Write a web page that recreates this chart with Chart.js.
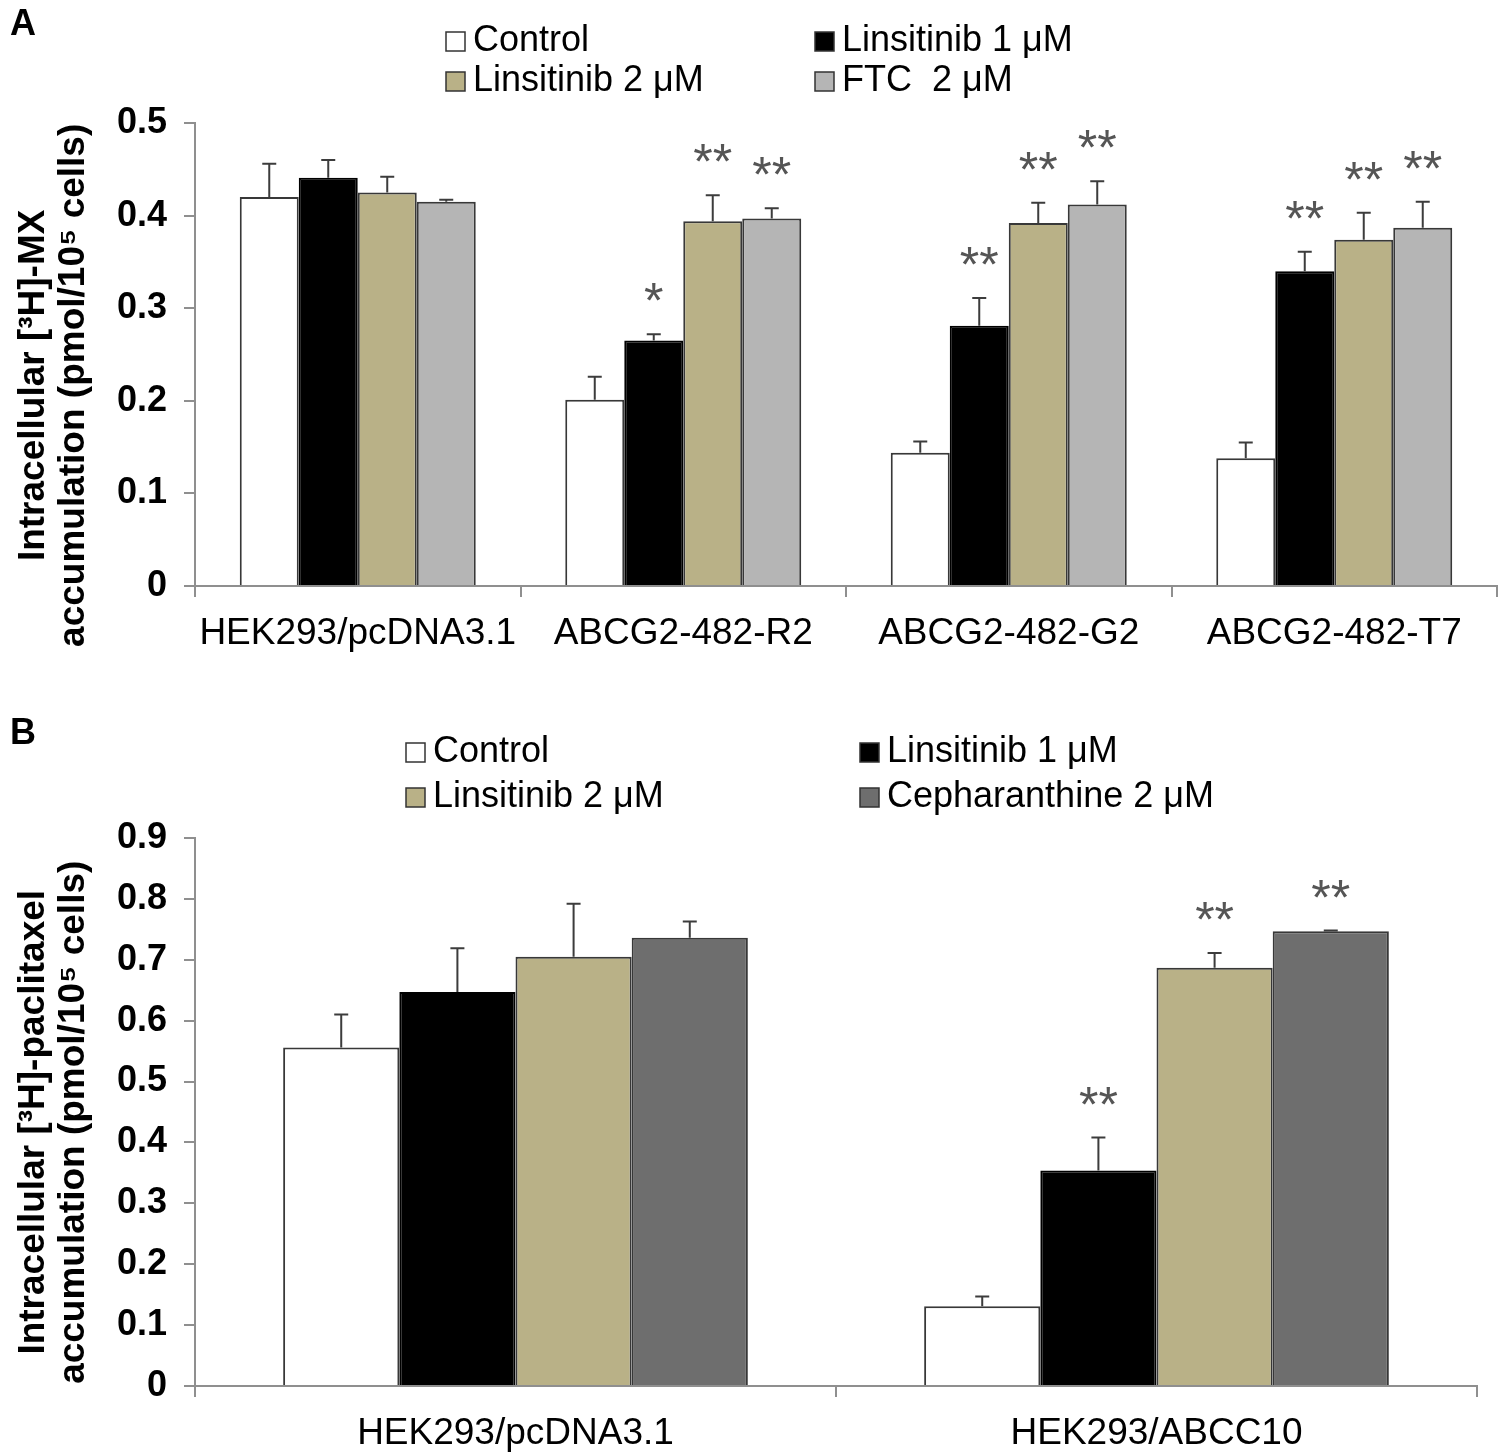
<!DOCTYPE html>
<html><head><meta charset="utf-8">
<script src="https://cdn.jsdelivr.net/npm/chart.js@4/dist/chart.umd.min.js"></script>
<style>
html,body{margin:0;padding:0;background:#fff;}
#wrapA{position:absolute;left:0;top:0;width:1500px;height:700px;}
#wrapB{position:absolute;left:0;top:700px;width:1500px;height:754px;}
</style></head><body>
<div id="wrapA"><canvas id="chartA"></canvas></div>
<div id="wrapB"><canvas id="chartB"></canvas></div>
<script>
// ---------- Panel A data ----------
const categoriesA = ['HEK293/pcDNA3.1', 'ABCG2-482-R2', 'ABCG2-482-G2', 'ABCG2-482-T7'];
const seriesNamesA = ['Control', 'Linsitinib 1 \u03bcM', 'Linsitinib 2 \u03bcM', 'FTC  2 \u03bcM'];
const controlA = [0.420, 0.201, 0.144, 0.138];
const lins1A   = [0.441, 0.265, 0.281, 0.340];
const lins2A   = [0.425, 0.394, 0.392, 0.374];
const ftcA     = [0.415, 0.397, 0.412, 0.387];
const controlErrA = [0.036, 0.025, 0.012, 0.017];
const lins1ErrA   = [0.019, 0.007, 0.030, 0.021];
const lins2ErrA   = [0.017, 0.028, 0.022, 0.029];
const ftcErrA     = [0.002, 0.011, 0.025, 0.028];
const controlSigA = ['', '', '', ''];
const lins1SigA   = ['', '*', '**', '**'];
const lins2SigA   = ['', '**', '**', '**'];
const ftcSigA     = ['', '**', '**', '**'];
const yTicksA = [0, 0.5, 0.1];   // min, max, step
const yTitleA = ['Intracellular [\u00b3H]-MX', 'accumulation (pmol/10\u2075 cells)'];

// ---------- Panel B data ----------
const categoriesB = ['HEK293/pcDNA3.1', 'HEK293/ABCC10'];
const seriesNamesB = ['Control', 'Linsitinib 1 \u03bcM', 'Linsitinib 2 \u03bcM', 'Cepharanthine 2 \u03bcM'];
const controlB = [0.556, 0.131];
const lins1B   = [0.647, 0.354];
const lins2B   = [0.705, 0.687];
const cephB    = [0.736, 0.747];
const controlErrB = [0.054, 0.016];
const lins1ErrB   = [0.072, 0.054];
const lins2ErrB   = [0.087, 0.024];
const cephErrB    = [0.027, 0.001];
const controlSigB = ['', ''];
const lins1SigB   = ['', '**'];
const lins2SigB   = ['', '**'];
const cephSigB    = ['', '**'];
const yTicksB = [0, 0.9, 0.1];
const yTitleB = ['Intracellular [\u00b3H]-paclitaxel', 'accumulation (pmol/10\u2075 cells)'];

// ---------- styles ----------
const FONT = "'Liberation Sans', Arial, Helvetica, sans-serif";
const AXIS_GRAY = '#8f8f8f';
const colorsA = ['#ffffff', '#000000', '#b9b187', '#b5b5b5'];
const colorsB = ['#ffffff', '#000000', '#b9b187', '#6e6e6e'];
const borderColors = ['#383838', '#000000', '#383838', '#383838'];

function makeDatasets(names, values, errs, sigs, colors) {
  return names.map((n, i) => ({
    label: n,
    data: values[i],
    errors: errs[i],
    sig: sigs[i],
    backgroundColor: colors[i],
    borderColor: borderColors[i],
    borderWidth: 2,
    borderSkipped: 'start',
    categoryPercentage: 0.725,
    barPercentage: 1.0
  }));
}

// pad title lines with trailing spaces to nudge the centred title downward
function padTitle(lines, n) {
  return lines.map(l => l + ' '.repeat(n));
}

const extrasPlugin = {
  id: 'extras',
  afterDatasetsDraw(chart, args, opts) {
    const ctx = chart.ctx;
    const yScale = chart.scales.y;
    ctx.save();
    chart.data.datasets.forEach((ds, i) => {
      const meta = chart.getDatasetMeta(i);
      meta.data.forEach((bar, j) => {
        const v = ds.data[j], e = ds.errors[j];
        const yTop = yScale.getPixelForValue(v + e);
        ctx.strokeStyle = '#3c3c3c';
        ctx.lineWidth = 2;
        ctx.beginPath();
        ctx.moveTo(bar.x, bar.y);
        ctx.lineTo(bar.x, yTop);
        ctx.moveTo(bar.x - 7, yTop);
        ctx.lineTo(bar.x + 7, yTop);
        ctx.stroke();
        const s = ds.sig[j];
        if (s) {
          ctx.fillStyle = '#555555';
          ctx.font = '50px ' + FONT;
          ctx.textAlign = 'center';
          ctx.textBaseline = 'alphabetic';
          ctx.fillText(s, bar.x, yTop - 45 + 29);
        }
      });
    });
    ctx.restore();
  },
  afterDraw(chart, args, opts) {
    const ctx = chart.ctx;
    ctx.save();
    const lg = opts.legend;
    chart.data.datasets.forEach((ds, i) => {
      const p = lg[i];
      ctx.fillStyle = ds.backgroundColor;
      ctx.fillRect(p.x, p.y - 19, 19, 19);
      ctx.strokeStyle = '#333';
      ctx.lineWidth = 1.5;
      ctx.strokeRect(p.x, p.y - 19, 19, 19);
      ctx.fillStyle = '#000';
      ctx.font = '36px ' + FONT;
      ctx.textAlign = 'left';
      ctx.textBaseline = 'alphabetic';
      ctx.fillText(ds.label, p.x + 27, p.y);
    });
    ctx.fillStyle = '#000';
    ctx.font = 'bold 36px ' + FONT;
    ctx.textAlign = 'left';
    ctx.textBaseline = 'alphabetic';
    ctx.fillText(opts.panel.text, opts.panel.x, opts.panel.y);
    ctx.restore();
  }
};

function makeChart(id, cats, datasets, yt, titleLines, pad, xHeight, legendPos, panel) {
  return new Chart(document.getElementById(id), {
    type: 'bar',
    data: { labels: cats, datasets: datasets },
    plugins: [extrasPlugin],
    options: {
      responsive: true,
      maintainAspectRatio: false,
      animation: false,
      events: [],
      layout: { padding: pad },
      plugins: {
        legend: { display: false },
        tooltip: { enabled: false },
        extras: { legend: legendPos, panel: panel }
      },
      scales: {
        x: {
          offset: true,
          border: { display: true, color: AXIS_GRAY, width: 2 },
          grid: { display: true, offset: true, drawOnChartArea: false, drawTicks: true, tickLength: 11, color: AXIS_GRAY, lineWidth: 2 },
          ticks: { color: '#000', font: { family: FONT, size: 37 }, padding: 15, autoSkip: false, maxRotation: 0 },
          afterFit(scale) { scale.height = xHeight; }
        },
        y: {
          min: yt[0], max: yt[1],
          border: { display: true, color: AXIS_GRAY, width: 2 },
          grid: { display: true, drawOnChartArea: false, drawTicks: true, tickLength: 11, color: AXIS_GRAY, lineWidth: 2 },
          ticks: { stepSize: yt[2], color: '#000', font: { family: FONT, size: 36, weight: 'bold' }, padding: 17 },
          title: { display: true, text: titleLines, color: '#000', font: { family: FONT, size: 37, weight: 'bold', lineHeight: 1.08 }, padding: { top: 14, bottom: 0 } },
          afterFit(scale) { scale.width = 195; }
        }
      }
    }
  });
}

makeChart('chartA', categoriesA,
  makeDatasets(seriesNamesA, [controlA, lins1A, lins2A, ftcA], [controlErrA, lins1ErrA, lins2ErrA, ftcErrA], [controlSigA, lins1SigA, lins2SigA, ftcSigA], colorsA),
  yTicksA, padTitle(yTitleA, 6),
  { left: 0, right: 3, top: 123, bottom: 0 }, 114,
  [{x: 446, y: 51}, {x: 815, y: 51}, {x: 446, y: 91}, {x: 815, y: 91}],
  { text: 'A', x: 10, y: 35 });

makeChart('chartB', categoriesB,
  makeDatasets(seriesNamesB, [controlB, lins1B, lins2B, cephB], [controlErrB, lins1ErrB, lins2ErrB, cephErrB], [controlSigB, lins1SigB, lins2SigB, cephSigB], colorsB),
  yTicksB, padTitle(yTitleB, 2),
  { left: 0, right: 23, top: 138, bottom: 0 }, 68,
  [{x: 406, y: 62}, {x: 860, y: 62}, {x: 406, y: 107}, {x: 860, y: 107}],
  { text: 'B', x: 10, y: 44 });
</script>
</body></html>
